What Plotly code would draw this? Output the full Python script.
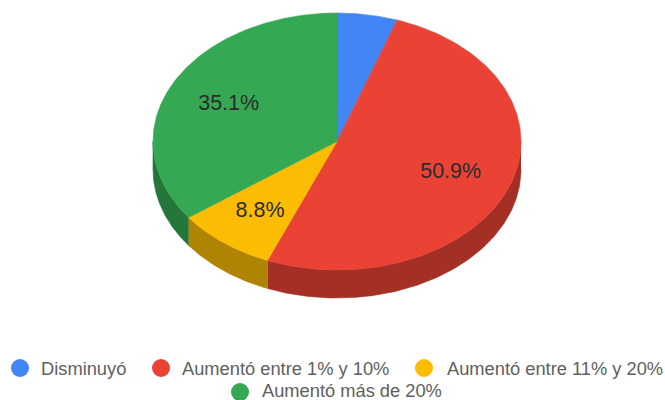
import numpy as np
import plotly.graph_objects as go

categories = ["Disminuyó", "Aumentó entre 1% y 10%", "Aumentó entre 11% y 20%", "Aumentó más de 20%"]
values = [5.3, 50.9, 8.8, 35.1]
colors = ["#4285f4", "#ea4335", "#fbbc04", "#34a853"]
side_colors = ["#2e5dab", "#a42f25", "#b08403", "#24763a"]
value_labels = ["", "50.9%", "8.8%", "35.1%"]

# Pixel-based layout of the projected pie
CX, CY, RX, RY, DEPTH = 337.0, 141.5, 184.0, 128.5, 28.0
LABEL_R = np.array([0.66, 0.66, 0.68, 0.66])
FONT = "Liberation Sans, Arial, sans-serif"
LEGEND_MARKS = [(20, 368), (161, 368), (424, 368), (240, 392)]
LEGEND_TEXT_X = [39, 180, 445, 260]
LEGEND_TEXT_Y = [368, 368, 368, 390.5]

fractions = np.array(values) / sum(values) * 2 * np.pi
ends = np.cumsum(fractions)
starts = ends - fractions


def px(a):
    return CX + RX * np.sin(a)


def py(a):
    return CY - RY * np.cos(a)


fig = go.Figure()

# Side walls: only the front half of the rim (angles between 90 and 270 degrees)
for s, e, name, c in zip(starts, ends, categories, side_colors):
    lo, hi = max(s, np.pi / 2), min(e, 3 * np.pi / 2)
    if hi <= lo:
        continue
    a = np.linspace(lo, hi, 160)
    x = np.concatenate([px(a), px(a[::-1])])
    y = np.concatenate([py(a), py(a[::-1]) + DEPTH])
    fig.add_trace(go.Scatter(x=x, y=y, fill="toself", mode="lines", fillcolor=c,
                             line=dict(width=0.6, color=c), showlegend=False, hoverinfo="skip"))

# Top faces
for s, e, name, v, c in zip(starts, ends, categories, values, colors):
    a = np.linspace(s, e, 240)
    x = np.concatenate([[CX], px(a), [CX]])
    y = np.concatenate([[CY], py(a), [CY]])
    fig.add_trace(go.Scatter(x=x, y=y, fill="toself", mode="lines", fillcolor=c,
                             line=dict(width=0.6, color=c), name=name, showlegend=False,
                             hoverinfo="text", text=f"{name}: {v}%"))

# Slice labels
mids = (starts + ends) / 2
fig.add_trace(go.Scatter(x=CX + LABEL_R * RX * np.sin(mids), y=CY - LABEL_R * RY * np.cos(mids) + 1,
                         mode="text", text=value_labels, textposition="middle center",
                         textfont=dict(family=FONT, size=21.5, color="#2b2b2b"),
                         showlegend=False, hoverinfo="skip"))

# Legend
fig.add_trace(go.Scatter(x=[m[0] for m in LEGEND_MARKS], y=[m[1] for m in LEGEND_MARKS],
                         mode="markers", marker=dict(size=18, color=colors),
                         showlegend=False, hoverinfo="skip"))
annotations = [dict(x=tx, y=ty, xref="x", yref="y", text=name, showarrow=False, xanchor="left",
                    yanchor="middle", font=dict(family=FONT, size=18.3, color="#606060"))
               for name, tx, ty in zip(categories, LEGEND_TEXT_X, LEGEND_TEXT_Y)]

fig.update_layout(
    width=665, height=400, margin=dict(l=0, r=0, t=0, b=0),
    paper_bgcolor="white", plot_bgcolor="white", showlegend=False,
    annotations=annotations,
    xaxis=dict(range=[0, 665], visible=False, fixedrange=True),
    yaxis=dict(range=[400, 0], visible=False, fixedrange=True),
)
fig.write_html("out.html", config=dict(displayModeBar=False),
               post_script="document.body.style.margin='0';document.body.style.overflow='hidden';")
